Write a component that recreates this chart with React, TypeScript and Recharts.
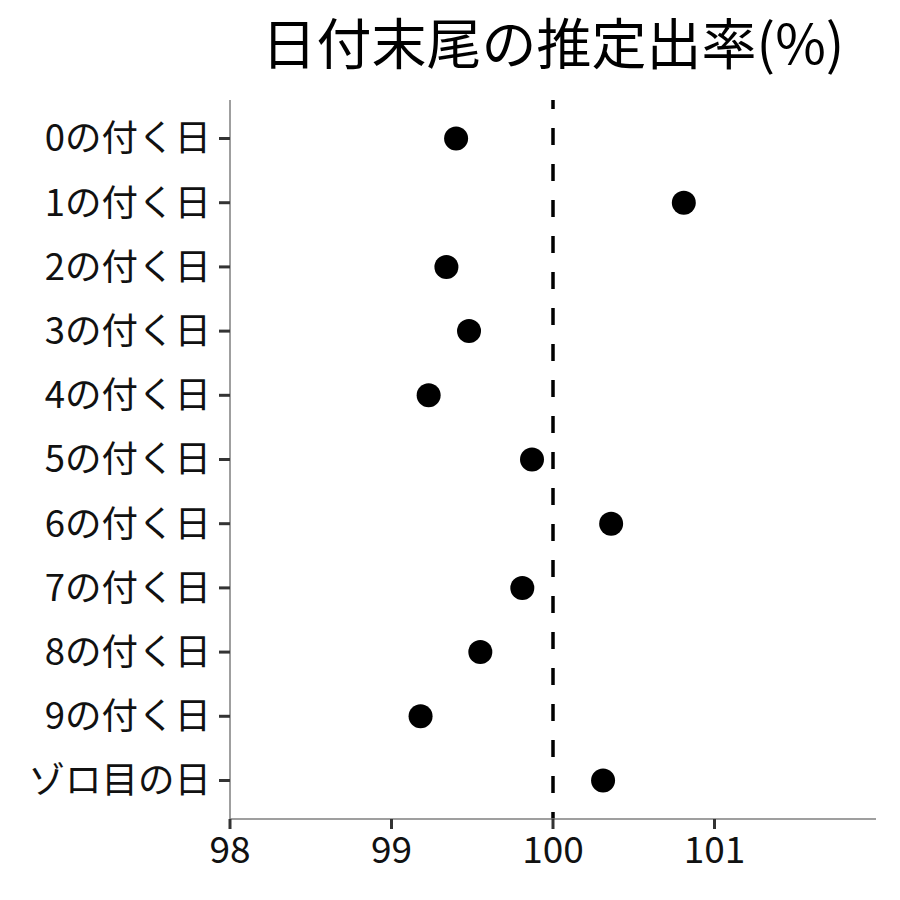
import { ScatterChart, Scatter, XAxis, YAxis, ReferenceLine } from 'recharts';

// categories top to bottom
const labels = [
  '0の付く日', '1の付く日', '2の付く日', '3の付く日', '4の付く日',
  '5の付く日', '6の付く日', '7の付く日', '8の付く日', '9の付く日', 'ゾロ目の日',
];
const rates = [99.40, 100.81, 99.34, 99.48, 99.23, 99.87, 100.36, 99.81, 99.55, 99.18, 100.31];
const xTicks = [98, 99, 100, 101];

const data = labels.map((name, i) => ({ idx: i, name, rate: rates[i] }));

const FONT = '"Noto Sans CJK JP", "Noto Sans", sans-serif';

export default function App() {
  return (
    <div style={{ position: 'absolute', left: 0, top: 0, width: 900, height: 900, background: '#fff', fontFamily: FONT }}>
      <ScatterChart width={900} height={900} margin={{ top: 100, right: 24, bottom: 0, left: 0 }}>
        <XAxis
          type="number"
          dataKey="rate"
          domain={[98, 102]}
          ticks={xTicks}
          allowDataOverflow
          height={81}
          stroke="#7f7f7f"
          strokeWidth={1.5}
          tickLine={{ stroke: '#333', strokeWidth: 3 }}
          tickSize={10}
          tickMargin={8}
          tick={{ fill: '#111', fontSize: 37, fontFamily: FONT }}
        />
        <YAxis
          type="number"
          dataKey="idx"
          domain={[-0.6, 10.6]}
          reversed
          ticks={labels.map((_, i) => i)}
          interval={0}
          tickFormatter={(v: number) => labels[v]}
          width={230}
          stroke="#7f7f7f"
          strokeWidth={1.5}
          tickLine={{ stroke: '#333', strokeWidth: 3 }}
          tickSize={11}
          tickMargin={8}
          tick={{ fill: '#111', fontSize: 36.5, fontFamily: FONT }}
        />
        <ReferenceLine x={100} stroke="#000" strokeWidth={3.5} strokeDasharray="17 19" strokeDashoffset={10} />
        <Scatter
          data={data}
          fill="#000"
          isAnimationActive={false}
          shape={(p: any) => <circle cx={p.cx} cy={p.cy} r={12} fill="#000" />}
        />
      </ScatterChart>
      <div
        style={{
          position: 'absolute', left: 130, top: 5, width: 846, textAlign: 'center',
          fontSize: 55, lineHeight: '70px', color: '#000', whiteSpace: 'nowrap', zIndex: 2,
        }}
      >
        日付末尾の推定出率(%)
      </div>
    </div>
  );
}
